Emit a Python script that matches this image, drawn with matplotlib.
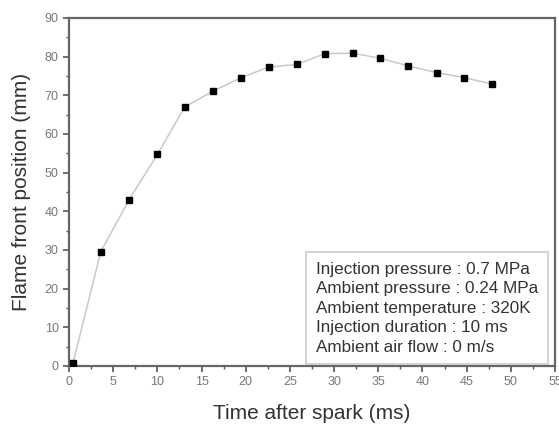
import numpy as np
import matplotlib.pyplot as plt

plt.rcParams['font.family'] = ['Liberation Sans', 'DejaVu Sans']

# Flame front position vs time after spark
time_ms = [0.45, 3.6, 6.8, 10.0, 13.1, 16.3, 19.5, 22.6, 25.8, 29.0, 32.1, 35.2, 38.4, 41.6, 44.7, 47.9]
position_mm = [0.7, 29.6, 43.0, 54.7, 67.0, 71.1, 74.6, 77.3, 78.0, 80.8, 80.9, 79.6, 77.6, 75.9, 74.6, 72.9]

notes = ["Injection pressure : 0.7 MPa",
         "Ambient pressure : 0.24 MPa",
         "Ambient temperature : 320K",
         "Injection duration : 10 ms",
         "Ambient air flow : 0 m/s"]

fig = plt.figure(figsize=(5.59, 4.26), dpi=100)
ax = fig.add_axes([69/559, 1 - 366/426, (555-69)/559, (366-18)/426])

ax.plot(time_ms, position_mm, color='#c8c8c8', lw=1.1, zorder=2)
ax.plot(time_ms, position_mm, ls='none', marker='s', ms=5, color='black', zorder=3)

ax.set_xlim(0, 55)
ax.set_ylim(0, 90)
ax.set_xticks(np.arange(0, 56, 5))
ax.set_xticks(np.arange(0, 56, 2.5), minor=True)
ax.set_yticks(np.arange(0, 91, 10))
ax.set_yticks(np.arange(0, 91, 5), minor=True)
ax.tick_params(which='both', direction='out', color='#555555', labelcolor='#777777',
               labelsize=9)
ax.tick_params(which='major', length=4, width=1.2)
ax.tick_params(which='minor', length=2.5, width=1)
for s in ax.spines.values():
    s.set_color('#666666')
    s.set_linewidth(1.6)

ax.set_xlabel('Time after spark (ms)', fontsize=15, color='#333333', labelpad=11)
ax.set_ylabel('Flame front position (mm)', fontsize=15, color='#333333', labelpad=10)

ax.text(0.508, 0.30, "\n".join(notes), transform=ax.transAxes, fontsize=12.3,
        color='#333333', va='top', ha='left', linespacing=1.38,
        bbox=dict(boxstyle='square,pad=0.55', fc='white', ec='#cccccc', lw=1.2))

fig.savefig('out.png', dpi=100)
